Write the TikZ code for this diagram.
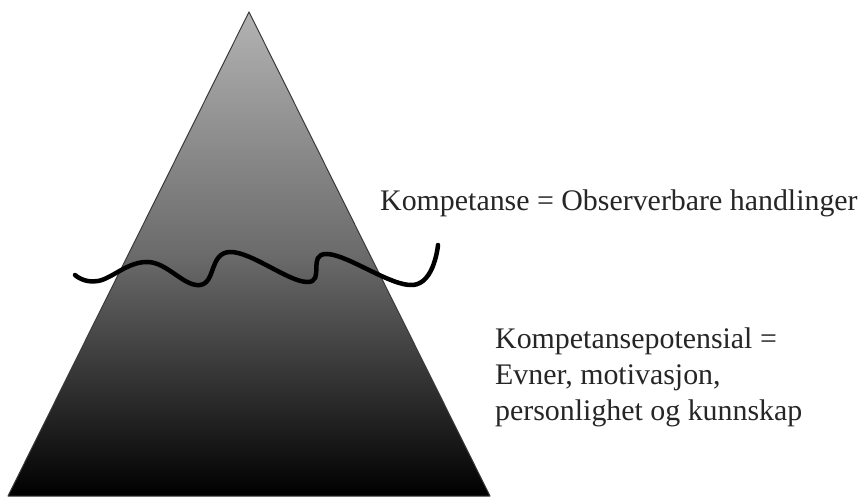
\documentclass[tikz,border=0pt]{standalone}
\usepackage{fontspec}
\setmainfont{Liberation Serif}
\begin{document}
\begin{tikzpicture}[x=1bp,y=-1bp,font=\fontsize{30}{36}\selectfont]
  \definecolor{edge}{HTML}{3A3A3A}
  \definecolor{ink}{HTML}{262626}
  \useasboundingbox (0,0) rectangle (868,498);
  \fill[white] (0,0) rectangle (868,498);

  \coordinate (apex) at (249,12);
  \coordinate (baseL) at (8,496);
  \coordinate (baseR) at (490,496);
  % Shaded pyramid, light at the tip and black at the base.
  \shade[top color=black!30,bottom color=black,middle color=black!58]
    (apex) -- (baseR) -- (baseL) -- cycle;
  \draw[edge,line width=1pt,line join=round] (apex) -- (baseR) -- (baseL) -- cycle;

  % Water line
  \draw[black,line width=4.5bp,line cap=round] plot[smooth,tension=.7] coordinates
    {(75,275) (98,281) (148,262) (200,285) (230,252)
     (307,282) (327,254) (413,285) (438,245)};

  \tikzset{note/.style={text=ink,inner sep=0pt,align=left}}
  \node[note,anchor=base west] (kompetanse) at (380,211)
    {Kompetanse = Observerbare handlinger};
  \node[note,anchor=north west] (potensial) at (495,327.5)
    {Kompetansepotensial =\\Evner, motivasjon,\\personlighet og kunnskap};
\end{tikzpicture}
\end{document}
